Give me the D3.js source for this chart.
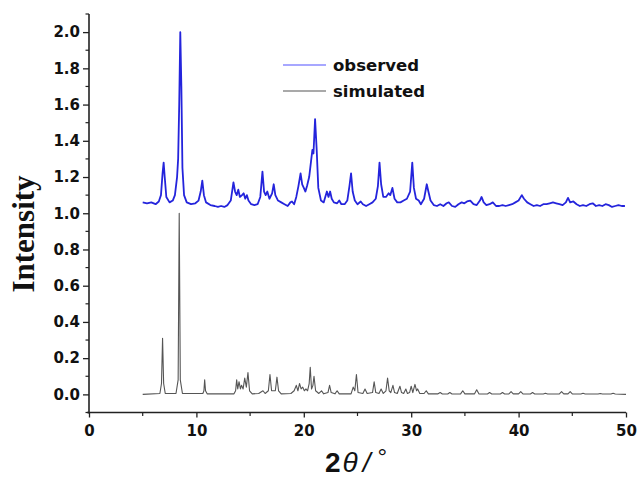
<!DOCTYPE html>
<html>
<head>
<meta charset="utf-8">
<script src="https://cdn.jsdelivr.net/npm/d3@7"></script>
<style>
  body { margin: 0; background: #fff; }
  svg { display: block; }
</style>
</head>
<body>
<svg id="chart" width="640" height="477"></svg>
<script>
// ----- data -----
// observed pattern: [2theta, intensity], offset by ~1.05
const observed = [
  [5.0,1.06],[5.4,1.055],[5.8,1.06],[6.2,1.05],[6.5,1.065],[6.7,1.1],[6.85,1.22],[6.95,1.28],[7.05,1.2],[7.2,1.09],
  [7.5,1.06],[7.8,1.07],[8.0,1.1],[8.2,1.2],[8.3,1.3],[8.4,1.6],[8.5,2.0],[8.6,1.7],[8.7,1.25],[8.85,1.1],
  [9.1,1.06],[9.5,1.05],[9.9,1.055],[10.2,1.07],[10.4,1.12],[10.55,1.18],[10.7,1.1],[10.9,1.06],[11.3,1.045],[11.7,1.04],
  [12.0,1.035],[12.3,1.04],[12.6,1.035],[12.9,1.045],[13.2,1.07],[13.45,1.17],[13.6,1.12],[13.75,1.1],[13.9,1.13],[14.05,1.09],
  [14.25,1.1],[14.4,1.11],[14.55,1.08],[14.7,1.1],[14.85,1.07],[15.1,1.05],[15.4,1.045],[15.7,1.05],[15.95,1.09],[16.15,1.23],
  [16.3,1.12],[16.45,1.1],[16.6,1.12],[16.8,1.08],[17.05,1.11],[17.2,1.16],[17.35,1.1],[17.6,1.07],[17.9,1.06],[18.2,1.05],
  [18.5,1.04],[18.75,1.06],[18.9,1.065],[19.1,1.05],[19.3,1.09],[19.5,1.15],[19.7,1.22],[19.85,1.16],[20.0,1.14],[20.15,1.12],
  [20.3,1.15],[20.5,1.2],[20.7,1.3],[20.8,1.35],[20.9,1.33],[21.05,1.52],[21.2,1.35],[21.35,1.14],[21.6,1.07],[21.85,1.06],
  [22.0,1.09],[22.15,1.12],[22.3,1.09],[22.45,1.12],[22.6,1.08],[22.8,1.06],[23.1,1.055],[23.3,1.07],[23.5,1.05],[23.8,1.05],
  [24.05,1.07],[24.25,1.15],[24.4,1.22],[24.55,1.12],[24.75,1.07],[25.0,1.05],[25.3,1.065],[25.5,1.05],[25.8,1.04],[26.1,1.05],
  [26.4,1.06],[26.7,1.08],[26.9,1.15],[27.05,1.28],[27.2,1.16],[27.4,1.09],[27.65,1.09],[27.9,1.11],[28.05,1.1],[28.25,1.14],
  [28.45,1.08],[28.7,1.06],[29.0,1.06],[29.3,1.07],[29.6,1.08],[29.9,1.12],[30.1,1.28],[30.25,1.14],[30.45,1.08],[30.7,1.07],
  [30.9,1.05],[31.2,1.08],[31.45,1.16],[31.6,1.12],[31.8,1.07],[32.1,1.045],[32.4,1.04],[32.7,1.05],[33.0,1.04],[33.3,1.055],
  [33.5,1.06],[33.8,1.04],[34.1,1.035],[34.4,1.05],[34.7,1.06],[34.95,1.055],[35.2,1.065],[35.5,1.07],[35.8,1.05],[36.1,1.045],
  [36.4,1.07],[36.55,1.09],[36.75,1.06],[37.0,1.045],[37.3,1.05],[37.6,1.06],[37.9,1.04],[38.2,1.04],[38.5,1.045],[38.8,1.04],
  [39.1,1.045],[39.4,1.05],[39.7,1.06],[40.0,1.07],[40.3,1.1],[40.5,1.08],[40.8,1.06],[41.1,1.05],[41.4,1.04],[41.7,1.045],
  [42.0,1.04],[42.3,1.05],[42.6,1.05],[42.9,1.055],[43.2,1.06],[43.5,1.055],[43.8,1.05],[44.1,1.045],[44.4,1.06],[44.6,1.085],
  [44.8,1.06],[45.1,1.065],[45.4,1.05],[45.7,1.04],[46.0,1.045],[46.3,1.04],[46.6,1.05],[46.9,1.055],[47.2,1.04],[47.5,1.045],
  [47.8,1.04],[48.1,1.05],[48.4,1.045],[48.7,1.035],[49.0,1.04],[49.3,1.045],[49.6,1.04],[49.9,1.04]
];

// simulated pattern: [2theta, intensity]
const simulated = [
  [5.0,0],[6.6,0.005],[6.75,0.06],[6.85,0.31],[6.95,0.06],[7.1,0.005],[8.1,0.005],[8.3,0.08],[8.4,1.0],[8.5,0.08],
  [8.7,0.005],[10.6,0.005],[10.7,0.02],[10.77,0.08],[10.85,0.02],[11.0,0.003],[13.5,0.003],[13.65,0.02],[13.75,0.08],[13.85,0.03],
  [13.97,0.07],[14.1,0.03],[14.2,0.05],[14.35,0.03],[14.5,0.09],[14.65,0.04],[14.8,0.12],[14.95,0.02],[15.2,0.003],[15.8,0.005],
  [16.2,0.02],[16.4,0.005],[16.7,0.02],[16.85,0.11],[17.0,0.02],[17.35,0.02],[17.5,0.095],[17.65,0.02],[17.9,0.003],[18.8,0.005],
  [19.1,0.02],[19.3,0.05],[19.45,0.02],[19.6,0.06],[19.75,0.03],[19.9,0.04],[20.05,0.02],[20.2,0.03],[20.35,0.02],[20.5,0.06],
  [20.6,0.15],[20.72,0.03],[20.85,0.05],[20.95,0.1],[21.1,0.02],[21.4,0.005],[21.65,0.02],[21.85,0.003],[22.25,0.01],[22.4,0.05],
  [22.55,0.01],[22.9,0.003],[23.1,0.02],[23.3,0.003],[24.4,0.003],[24.6,0.04],[24.75,0.02],[24.9,0.11],[25.05,0.01],[25.5,0.005],
  [25.7,0.03],[25.9,0.005],[26.4,0.01],[26.55,0.07],[26.7,0.01],[27.0,0.005],[27.2,0.03],[27.4,0.005],[27.65,0.02],[27.8,0.09],
  [27.95,0.02],[28.1,0.01],[28.3,0.05],[28.45,0.01],[28.7,0.005],[28.95,0.045],[29.1,0.01],[29.3,0.005],[29.5,0.03],[29.65,0.005],
  [29.85,0.01],[30.0,0.045],[30.15,0.01],[30.35,0.055],[30.5,0.02],[30.6,0.03],[30.8,0.005],[31.2,0.005],[31.4,0.02],[31.6,0.003],
  [32.5,0.003],[32.7,0.01],[32.9,0.002],[33.4,0.002],[33.6,0.01],[33.8,0.002],[34.6,0.003],[34.8,0.02],[35.0,0.003],[35.9,0.003],
  [36.1,0.025],[36.3,0.003],[37.1,0.002],[37.3,0.01],[37.5,0.002],[38.3,0.002],[38.5,0.01],[38.7,0.002],[39.1,0.003],[39.3,0.015],
  [39.5,0.003],[40.0,0.003],[40.2,0.015],[40.4,0.003],[41.1,0.002],[41.3,0.01],[41.5,0.002],[42.3,0.002],[42.5,0.006],[42.7,0.002],
  [43.8,0.003],[44.0,0.015],[44.2,0.003],[44.6,0.003],[44.8,0.015],[45.0,0.003],[45.8,0.002],[46.0,0.006],[46.2,0.002],[47.4,0.002],
  [47.6,0.005],[47.8,0.002],[48.6,0.002],[48.8,0.006],[49.0,0.002],[50.0,0.0]
];

const xTicks = [0, 10, 20, 30, 40, 50];
const yTicks = [0.0, 0.2, 0.4, 0.6, 0.8, 1.0, 1.2, 1.4, 1.6, 1.8, 2.0];
const legendItems = ['observed', 'simulated'];

// ----- scales -----
const x = d3.scaleLinear().domain([0, 50]).range([89, 626]);
const y = d3.scaleLinear().domain([-0.1, 2.1]).range([412.5, 14]);

const svg = d3.select('#chart');
const labelFont = '"DejaVu Sans", Verdana, sans-serif';

// lines
const line = d3.line().x(d => x(d[0])).y(d => y(d[1]));

svg.append('path')
  .datum(simulated)
  .attr('fill', 'none')
  .attr('stroke', '#555')
  .attr('stroke-width', 1.1)
  .attr('stroke-linejoin', 'round')
  .attr('d', line);

svg.append('path')
  .datum(observed)
  .attr('fill', 'none')
  .attr('stroke', '#2424dc')
  .attr('stroke-width', 1.8)
  .attr('stroke-linejoin', 'round')
  .attr('d', line);

// ----- axes -----
const axisColor = '#222';

function styleTicks(g) {
  g.select('.domain').remove();
  g.selectAll('.tick line').attr('stroke', axisColor).attr('stroke-width', 1.3);
  g.selectAll('.tick text')
    .style('font-family', labelFont)
    .style('font-weight', 'bold')
    .style('font-size', '15px')
    .style('fill', '#111');
}

// y axis
svg.append('g').attr('transform', 'translate(89,0)')
  .call(d3.axisLeft(y).tickValues(yTicks).tickFormat(d3.format('.1f')).tickSize(6).tickSizeOuter(0).tickPadding(3))
  .call(styleTicks);

// minor y ticks
const yMinor = d3.range(-1, 22, 2).map(v => v / 10);
svg.append('g').selectAll('line').data(yMinor).join('line')
  .attr('x1', 89).attr('x2', 85.5)
  .attr('y1', d => y(d)).attr('y2', d => y(d))
  .attr('stroke', axisColor).attr('stroke-width', 1.2);

svg.append('line')
  .attr('x1', 89).attr('x2', 89)
  .attr('y1', y(2.1)).attr('y2', y(-0.1) + 1)
  .attr('stroke', axisColor).attr('stroke-width', 1.6);

// x axis
svg.append('g').attr('transform', `translate(0,${y(-0.1)})`)
  .call(d3.axisBottom(x).tickValues(xTicks).tickSize(5).tickSizeOuter(0).tickPadding(8))
  .call(styleTicks);

const xMinor = [5, 15, 25, 35, 45];
svg.append('g').selectAll('line').data(xMinor).join('line')
  .attr('x1', d => x(d)).attr('x2', d => x(d))
  .attr('y1', y(-0.1)).attr('y2', y(-0.1) + 3.5)
  .attr('stroke', axisColor).attr('stroke-width', 1.2);

svg.append('line')
  .attr('x1', 87).attr('x2', x(50))
  .attr('y1', y(-0.1)).attr('y2', y(-0.1))
  .attr('stroke', axisColor).attr('stroke-width', 1.6);

// axis titles
svg.append('text')
  .attr('transform', 'translate(34,234) rotate(-90)')
  .attr('text-anchor', 'middle')
  .attr('font-family', '"Liberation Serif", "Times New Roman", serif')
  .attr('font-weight', 'bold')
  .attr('font-size', 31)
  .attr('fill', '#111')
  .text('Intensity');

const xt = svg.append('text')
  .attr('x', 356).attr('y', 472)
  .attr('text-anchor', 'middle')
  .attr('font-family', 'Arial, "Liberation Sans", sans-serif')
  .attr('font-size', 28)
  .attr('fill', '#111');
xt.append('tspan').attr('font-weight', 'bold').text('2');
xt.append('tspan').attr('font-style', 'italic').attr('dx', 2).text('θ');
xt.append('tspan').attr('font-style', 'italic').attr('dx', 5).text('/');
xt.append('tspan').attr('font-size', 24).attr('dx', 7).attr('dy', -7).text('°');

// ----- legend -----
const legendColors = ['#8a8aff', '#8c8c8c'];
const lg = svg.append('g').selectAll('g').data(legendItems).join('g')
  .attr('transform', (d, i) => `translate(283,${65 + i * 26})`);
lg.append('line')
  .attr('x1', 0).attr('x2', 43)
  .attr('stroke', (d, i) => legendColors[i]).attr('stroke-width', 1.3);
lg.append('text')
  .attr('x', 50).attr('y', 6)
  .attr('font-family', labelFont)
  .attr('font-weight', 'bold')
  .attr('font-size', 16.5)
  .attr('fill', '#111')
  .text(d => d);
</script>
</body>
</html>
